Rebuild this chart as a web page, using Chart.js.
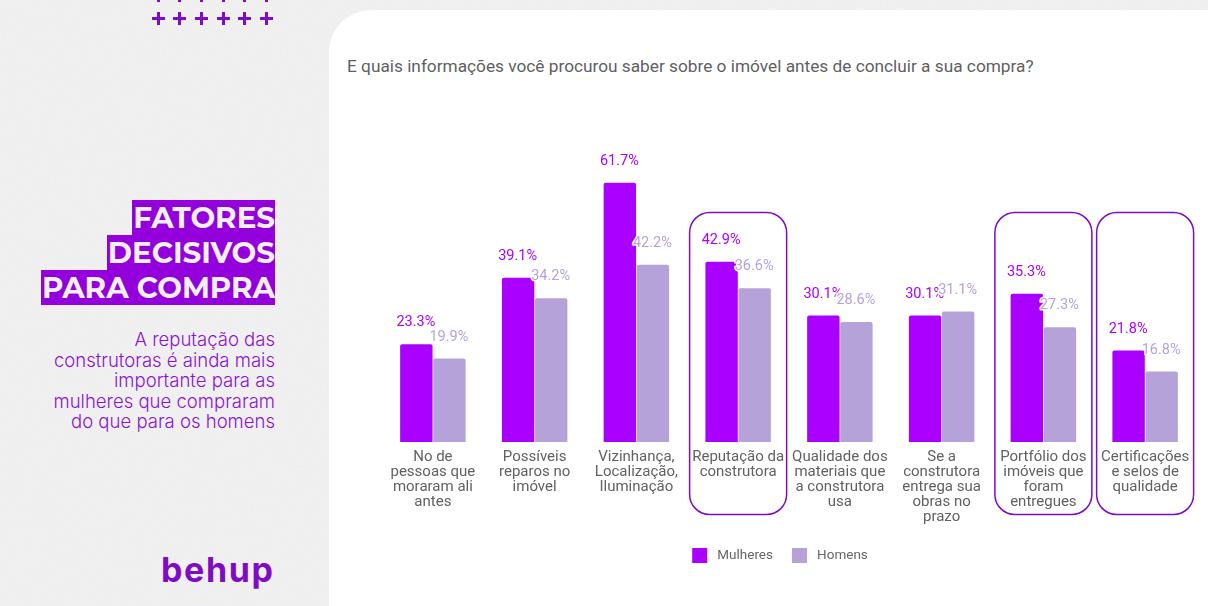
<!DOCTYPE html>
<html><head><meta charset="utf-8">
<script src="https://cdn.jsdelivr.net/npm/chart.js@4"></script>
<style>
html,body{margin:0;padding:0;width:1208px;height:606px;overflow:hidden;background:#f0f0f1;font-family:Roboto,sans-serif}
#tex{position:absolute;left:0;top:0}
#panel{position:absolute;left:329px;top:10px;width:1000px;height:640px;background:#fff;border-radius:42px}
#q{position:absolute;left:347px;top:56px;font:17.25px Roboto,sans-serif;color:#5f5f5f;white-space:nowrap}
#wrap{position:absolute;left:364px;top:100px;width:832px;height:473px}
#head{position:absolute;right:933px;top:200px;text-align:right;font:700 29.3px/35px Montserrat,Inter,sans-serif;color:#f0f0f1}
#head span{display:inline-block;background:#9400dc;height:35px;padding-left:1px;white-space:nowrap}
#sub{position:absolute;right:933px;top:329px;text-align:right;font:300 18.55px/20.6px Inter,sans-serif;color:#8a14d0;white-space:nowrap}
#logo{position:absolute;left:161px;top:550px;font:700 34px/40px Inter,sans-serif;letter-spacing:1.6px;color:#7d0cc4}
.p{position:absolute;width:13px;height:13px;background:
 linear-gradient(#7d0cc4,#7d0cc4) center/13px 3px no-repeat,
 linear-gradient(#7d0cc4,#7d0cc4) center/3px 13px no-repeat}
</style></head><body>
<svg id="tex" width="1208" height="606"><filter id="n"><feTurbulence type="fractalNoise" baseFrequency=".35" numOctaves="3" seed="4"/><feColorMatrix values="0 0 0 0 .5  0 0 0 0 .5  0 0 0 0 .5  0 0 0 .5 -.2"/></filter><rect width="1208" height="606" filter="url(#n)" opacity=".12"/></svg>
<div id="panel"></div>
<div id="plus"></div>
<div id="head"><span>FATORES</span><br><span>DECISIVOS</span><br><span>PARA COMPRA</span></div>
<div id="sub">A reputação das<br>construtoras é ainda mais<br>importante para as<br>mulheres que compraram<br>do que para os homens</div>
<div id="logo">behup</div>
<div id="q">E quais informações você procurou saber sobre o imóvel antes de concluir a sua compra?</div>
<div id="wrap"><canvas id="c"></canvas></div>
<script>
const categories=[
 ["No de","pessoas que","moraram ali","antes"],
 ["Possíveis","reparos no","imóvel"],
 ["Vizinhança,","Localização,","Iluminação"],
 ["Reputação da","construtora"],
 ["Qualidade dos","materiais que","a construtora","usa"],
 ["Se a","construtora","entrega sua","obras no","prazo"],
 ["Portfólio dos","imóveis que","foram","entregues"],
 ["Certificações","e selos de","qualidade"]];
const mulheres=[23.3,39.1,61.7,42.9,30.1,30.1,35.3,21.8];
const homens=[19.9,34.2,42.2,36.6,28.6,31.1,27.3,16.8];
const highlighted=[3,6,7];

const plusHost=document.getElementById('plus');
[-5,18].forEach(y=>[158,179.5,201,223,244.5,266].forEach(x=>{
  const d=document.createElement('div');d.className='p';
  d.style.left=(x-6.5)+'px';d.style.top=(y-6.5)+'px';plusHost.appendChild(d);}));

const highlightPlugin={id:'highlight',beforeDatasetsDraw(ch){
  const x=ch.scales.x,ctx=ch.ctx;ctx.save();
  ctx.strokeStyle='#7d0cc4';ctx.lineWidth=1.5;
  highlighted.forEach(i=>{const c=x.getPixelForValue(i);
    ctx.beginPath();ctx.roundRect(c-48.5,112.5,97,302,20);ctx.stroke();});
  ctx.restore();}};
const labelPlugin={id:'valueLabels',afterDatasetsDraw(ch){
  const ctx=ch.ctx;ctx.save();
  ctx.font='14.5px Roboto,sans-serif';ctx.textAlign='center';ctx.textBaseline='middle';ctx.lineJoin='round';
  ch.data.datasets.forEach((ds,di)=>{
    ch.getDatasetMeta(di).data.forEach((el,i)=>{
      const t=ds.data[i].toFixed(1)+'%',y=el.y-21.5;
      ctx.strokeStyle='#fff';ctx.lineWidth=3;ctx.strokeText(t,el.x-.5,y);
      ctx.fillStyle=ds.backgroundColor;ctx.fillText(t,el.x-.5,y);});});
  ctx.restore();}};

new Chart(document.getElementById('c'),{
 type:'bar',
 data:{labels:categories,datasets:[
  {label:'Mulheres',data:mulheres,backgroundColor:'#AA00FF',barPercentage:.98,categoryPercentage:.65,borderRadius:2},
  {label:'Homens',data:homens,backgroundColor:'#B5A2D9',barPercentage:.98,categoryPercentage:.65,borderRadius:2}]},
 options:{responsive:true,maintainAspectRatio:false,animation:false,
  layout:{padding:{top:48,left:0,right:0,bottom:0}},
  plugins:{tooltip:{enabled:false},
   legend:{position:'bottom',labels:{boxWidth:15,boxHeight:15,padding:19,color:'#666',font:{family:'Roboto',size:13.5},
     generateLabels(ch){return ch.data.datasets.map((d,i)=>({text:' '+d.label,fillStyle:d.backgroundColor,strokeStyle:d.backgroundColor,lineWidth:0,datasetIndex:i,fontColor:'#666'}));}}}},
  scales:{
   x:{grid:{display:false},border:{display:false},
      ticks:{autoSkip:false,maxRotation:0,minRotation:0,padding:0,color:'#616161',font:{family:'Roboto',size:15,lineHeight:1}},
      afterFit(s){s.height=87;}},
   y:{min:0,max:70,grid:{display:false},border:{display:false},ticks:{display:false},
      afterFit(s){s.width=18;}}}},
 plugins:[highlightPlugin,labelPlugin]});
</script></body></html>
